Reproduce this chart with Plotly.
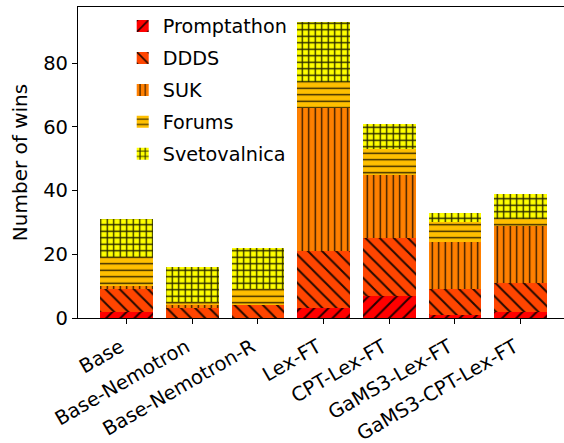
import plotly.graph_objects as go

categories = ["Base", "Base-Nemotron", "Base-Nemotron-R", "Lex-FT",
              "CPT-Lex-FT", "GaMS3-Lex-FT", "GaMS3-CPT-Lex-FT"]
promptathon = [2, 0, 0, 3, 7, 1, 2]
ddds = [7, 3, 4, 18, 18, 8, 9]
suk = [1, 1, 0, 45, 20, 15, 18]
forums = [9, 1, 5, 8, 8, 6, 2]
svetovalnica = [12, 11, 13, 19, 8, 3, 8]
y_ticks = [0, 20, 40, 60, 80]

series = [
    ("Promptathon", promptathon, "#ff0000", "/", 10, 0.2),
    ("DDDS", ddds, "#ff4500", "\\", 10, 0.2),
    ("SUK", suk, "#ff8000", "|", 6.5, 0.2),
    ("Forums", forums, "#ffbf00", "-", 6.5, 0.2),
    ("Svetovalnica", svetovalnica, "#ffff00", "+", 6.5, 0.36),
]

FONT = "DejaVu Sans"
fig = go.Figure()
for name, vals, color, shape, size, sol in series:
    fig.add_trace(go.Bar(
        x=categories, y=vals, name=name, legendgroup=name,
        marker=dict(color=color, line=dict(width=0),
                    pattern=dict(shape=shape, size=size, solidity=sol,
                                 fgcolor="#000000", fgopacity=0.85, bgcolor=color)),
    ))

fig.update_layout(
    width=564, height=443,
    barmode="stack", bargap=0.2,
    plot_bgcolor="white", paper_bgcolor="white",
    margin=dict(l=78, r=0, t=7, b=125, autoexpand=False),
    font=dict(family=FONT, size=19, color="black"),
    showlegend=True,
    legend=dict(x=0.092, y=1.0, xanchor="left", yanchor="top",
                bgcolor="rgba(255,255,255,0)", font=dict(size=19.2),
                traceorder="grouped", tracegroupgap=4, itemwidth=30),
)
fig.update_xaxes(
    range=[-0.74, 6.66], showline=True, mirror=True, linecolor="black", linewidth=1.2,
    ticks="outside", ticklen=5, tickcolor="black", tickangle=-30,
    tickfont=dict(size=19.5), showgrid=False, automargin=False,
    ticklabelshift=-6, ticklabelstandoff=4,
)
fig.update_yaxes(
    range=[0, 97.65], tickvals=y_ticks, showline=True, linecolor="black", linewidth=1.2,
    ticks="outside", ticklen=5, tickcolor="black", tickfont=dict(size=19.5),
    showgrid=False, zeroline=False, automargin=False,
    title=dict(text="Number of wins", font=dict(size=20), standoff=10),
)
fig.write_html(
    "out.html",
    config={"displayModeBar": False},
    post_script="document.body.style.margin='0';document.body.style.overflow='hidden';",
)
